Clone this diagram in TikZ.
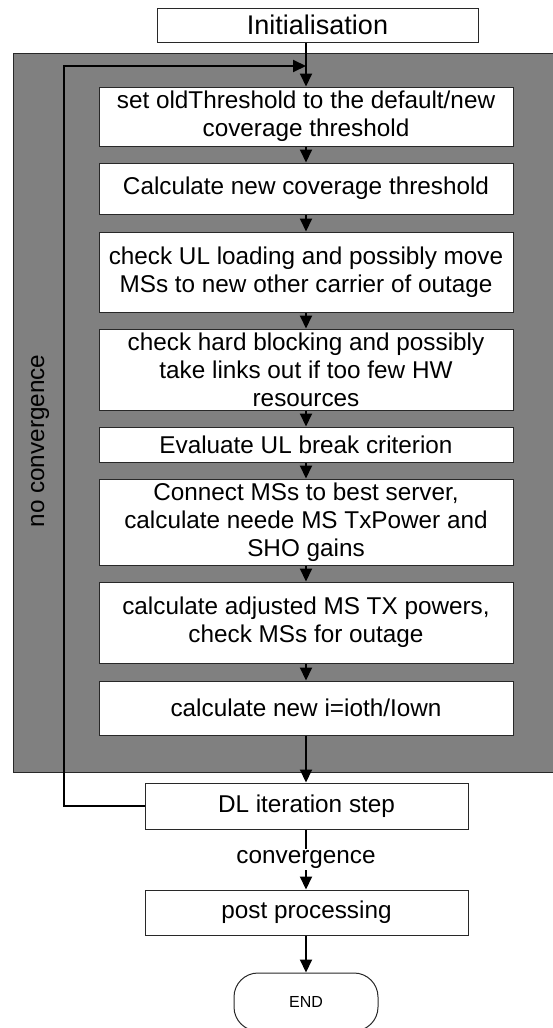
\documentclass[tikz,border=0pt]{standalone}
\usepackage{fontspec}
\setmainfont{Liberation Sans}
\usetikzlibrary{arrows.meta}
\definecolor{loopgray}{RGB}{128,128,128}
\definecolor{edgegray}{RGB}{40,40,40}
\tikzset{
  stepbox/.style={draw=edgegray, line width=1pt, fill=white, minimum width=414pt, inner sep=0pt, align=center, font=\fontsize{24.3}{28}\selectfont},
  outbox/.style={draw=edgegray, line width=1pt, fill=white, minimum width=323pt, inner sep=0pt, align=center, font=\fontsize{24.3}{28}\selectfont},
  conn/.style={line width=2pt, -{Triangle[width=12pt,length=13pt]}},
  plain/.style={line width=2pt}
}
\begin{document}
\begin{tikzpicture}[x=1pt,y=-1pt]
\useasboundingbox (0,0) rectangle (552,1028);
\fill[white] (0,0) rectangle (552,1028);
% grey loop region
\filldraw[fill=loopgray, draw=edgegray, line width=1pt] (13,53) rectangle (565,772);
\node[rotate=90, font=\fontsize{24.3}{28}\selectfont] (nc) at (40,441) {no convergence};
% nodes
\node[draw=edgegray, line width=1pt, fill=white, minimum width=321pt, minimum height=34pt, inner sep=0pt, font=\fontsize{27}{30}\selectfont] (init) at (317.5,25) {Initialisation};
\node[stepbox, minimum height=59pt] (b1) at (306,116.5) {set oldThreshold to the default/new\\coverage threshold};
\node[stepbox, minimum height=51pt] (b2) at (306,188.5) {Calculate new coverage threshold};
\node[stepbox, minimum height=80pt] (b3) at (306,272) {check UL loading and possibly move\\MSs to new other carrier of outage};
\node[stepbox, minimum height=81pt] (b4) at (306,369.5) {check hard blocking and possibly\\take links out if too few HW\\resources};
\node[stepbox, minimum height=35pt] (b5) at (306,444.5) {Evaluate UL break criterion};
\node[stepbox, minimum height=86pt] (b6) at (306,522) {Connect MSs to best server,\\calculate neede MS TxPower and\\SHO gains};
\node[stepbox, minimum height=81pt] (b7) at (306,622.5) {calculate adjusted MS TX powers,\\check MSs for outage};
\node[stepbox, minimum height=54pt] (b8) at (306,708) {calculate new i=ioth/Iown};
\node[outbox, minimum height=46pt] (dl) at (306.5,806) {DL iteration step};
\node[outbox, minimum height=45pt] (post) at (306.5,912.5) {post processing};
\node[draw=edgegray, line width=1pt, fill=white, minimum width=144pt, minimum height=58pt, rounded corners=24pt, inner sep=0pt, font=\fontsize{16}{18}\selectfont] (end) at (306,1002) {END};
% loop coordinates
\coordinate (lt) at (64,66);
\coordinate (lin) at (306,66);
% connectors
\draw[conn] (b1.north |- init.south) -- (b1.north);
\draw[conn] (dl.west) -| (lt) -- (lin);
\draw[conn] (b1.south) -- (b2.north);
\draw[conn] (b2.south) -- (b3.north);
\draw[conn] (b3.south) -- (b4.north);
\draw[conn] (b4.south) -- (b5.north);
\draw[conn] (b5.south) -- (b6.north);
\draw[conn] (b6.south) -- (b7.north);
\draw[conn] (b7.south) -- (b8.north);
\draw[conn] (b8.south) -- (b8.south |- dl.north);
\draw[conn] (b8.south |- dl.south) -- node[fill=white, inner sep=1pt, font=\fontsize{24.3}{28}\selectfont] (conv) {convergence} (b8.south |- post.north);
\draw[conn] (b8.south |- post.south) -- (end.north);
\end{tikzpicture}
\end{document}
